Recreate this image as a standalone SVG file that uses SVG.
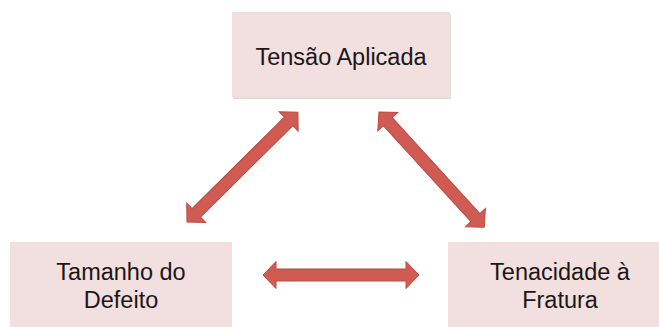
<svg xmlns="http://www.w3.org/2000/svg" xmlns:xlink="http://www.w3.org/1999/xlink" width="659" height="327" viewBox="0 0 659 327">
  <style>
    .box { fill: #f2dfdf; }
    .shadow { fill: #c8bcbc; opacity: 0.5; }
    .label { font-family: "Liberation Sans", Arial, sans-serif; font-size: 23.5px; fill: #1c1616; text-anchor: middle; }
    .arrow { fill: #d05b52; stroke: #b84a42; stroke-width: 1; stroke-linejoin: miter; }
  </style>
  <defs>
    <path id="dblarrow" d="M0,0 L13,-13.5 L13,-6 L143,-6 L143,-13.5 L156,0 L143,13.5 L143,6 L13,6 L13,13.5 Z"/>
  </defs>
  <rect width="659" height="327" fill="#ffffff"/>

  <g id="node-tensao">
    <rect class="shadow" x="233" y="14" width="218" height="85"/>
    <rect class="box" x="232" y="12" width="218" height="85"/>
    <text class="label" x="341" y="65">Tensão Aplicada</text>
  </g>

  <g id="node-tamanho">
    <rect class="box" x="10" y="242" width="222" height="85"/>
    <text class="label" x="121" y="280">Tamanho do</text>
    <text class="label" x="121" y="308">Defeito</text>
  </g>

  <g id="node-tenacidade">
    <rect class="box" x="448" y="242" width="211" height="85"/>
    <text class="label" x="560" y="280">Tenacidade à</text>
    <text class="label" x="560" y="308">Fratura</text>
  </g>

  <g id="connectors">
    <use xlink:href="#dblarrow" class="arrow" transform="translate(187,222) rotate(-44.7)"/>
    <use xlink:href="#dblarrow" class="arrow" transform="translate(379,112) rotate(47.6)"/>
    <use xlink:href="#dblarrow" class="arrow" transform="translate(263,275)"/>
  </g>
</svg>
